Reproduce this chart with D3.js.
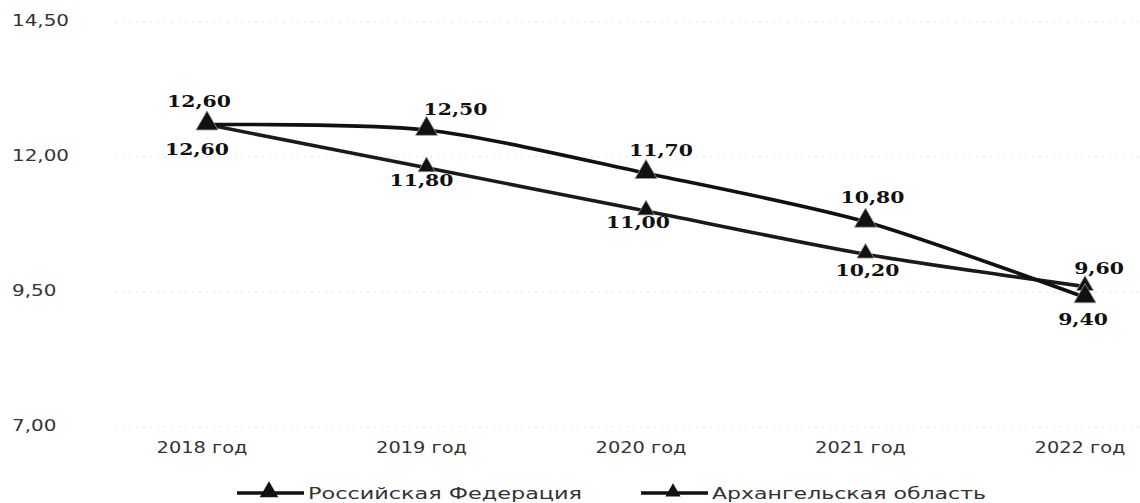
<!DOCTYPE html>
<html><head><meta charset="utf-8">
<script src="https://cdn.jsdelivr.net/npm/d3@7"></script>
<style>body{margin:0;background:#fff}svg{display:block}</style>
</head><body>
<svg id="c" width="1140" height="503"></svg>
<script>
const categories = ["2018 год", "2019 год", "2020 год", "2021 год", "2022 год"];
const rfValues = [12.6, 12.5, 11.7, 10.8, 9.4];
const arhValues = [12.6, 11.8, 11.0, 10.2, 9.6];
const yTicks = [7.0, 9.5, 12.0, 14.5];
const seriesNames = ["Российская Федерация", "Архангельская область"];

// label offsets (dx, dy) relative to points
const rfLabelOff = [[-8,-22],[29,-20],[15,-22],[7,-23],[-2,23]];
const arhLabelOff = [[-10,26],[-5,14],[-8,12],[2,17],[14,-17]];

const svg = d3.select("#c");
const fmt = v => d3.format(".2f")(v).replace(".", ",");

const x = d3.scalePoint().domain(categories).range([207, 1085]);
const y = d3.scaleLinear().domain([7, 14.5]).range([427, 22]);

// gridlines
svg.append("g").selectAll("line").data(yTicks).join("line")
  .attr("x1", 115).attr("x2", 1140)
  .attr("y1", d => y(d)).attr("y2", d => y(d))
  .attr("stroke", "#e2e2e2").attr("stroke-width", 1).attr("stroke-dasharray", "2,5");

// y axis labels (horizontally stretched like the scan)
svg.append("g").selectAll("g").data(yTicks).join("g")
  .attr("transform", d => `translate(12,${y(d)}) scale(1.33,1)`)
  .append("text").attr("dominant-baseline", "middle")
  .attr("font-family", "DejaVu Sans").attr("font-size", 15).attr("fill", "#333")
  .text(fmt);

// x labels
svg.append("g").selectAll("g").data(categories).join("g")
  .attr("transform", d => `translate(${x(d) - 5},449) scale(1.25,1)`)
  .append("text").attr("text-anchor", "middle").attr("dominant-baseline", "middle")
  .attr("font-family", "DejaVu Sans").attr("font-size", 15.5).attr("fill", "#333")
  .text(d => d);

const line = d3.line().x((d,i) => x(categories[i])).y(d => y(d)).curve(d3.curveCardinal.tension(0.2));

const tri = d3.symbol().type(d3.symbolTriangle);

function drawSeries(vals, width, color, size, offs) {
  svg.append("path").datum(vals).attr("d", line)
    .attr("fill", "none").attr("stroke", color).attr("stroke-width", width);
  svg.append("g").selectAll("path").data(vals).join("path")
    .attr("d", tri.size(size)())
    .attr("transform", (d,i) => `translate(${x(categories[i])},${y(d)-1})`)
    .attr("fill", "#111").attr("stroke", "#999").attr("stroke-width", 0.8);
  svg.append("g").selectAll("g").data(vals).join("g")
    .attr("transform", (d,i) => `translate(${x(categories[i]) + offs[i][0]},${y(d) + offs[i][1]}) scale(1.2,1)`)
    .append("text")
    .attr("text-anchor", "middle").attr("dominant-baseline", "middle")
    .attr("font-family", "DejaVu Serif").attr("font-weight", "bold")
    .attr("font-size", 17).attr("fill", "#111")
    .text(d => fmt(d));
}
drawSeries(arhValues, 3.6, "#1a1a1a", 125, arhLabelOff);
drawSeries(rfValues, 3.6, "#111", 210, rfLabelOff);

// legend
const legend = [{name: seriesNames[0], x: 237, size: 150}, {name: seriesNames[1], x: 641, size: 100}];
const lg = svg.append("g").selectAll("g").data(legend).join("g")
  .attr("transform", d => `translate(${d.x},493)`);
lg.append("line").attr("x1", 0).attr("x2", 67).attr("y1", 0).attr("y2", 0)
  .attr("stroke", "#111").attr("stroke-width", 3.5);
lg.append("path").attr("d", d => tri.size(d.size)()).attr("transform", "translate(32,-1)").attr("fill", "#111");
lg.append("text").attr("x", 71).attr("y", 1).attr("dominant-baseline", "middle")
  .attr("font-family", "DejaVu Sans").attr("font-size", 16).attr("fill", "#333")
  .attr("textLength", 274).attr("lengthAdjust", "spacingAndGlyphs")
  .text(d => d.name);
</script>
</body></html>
